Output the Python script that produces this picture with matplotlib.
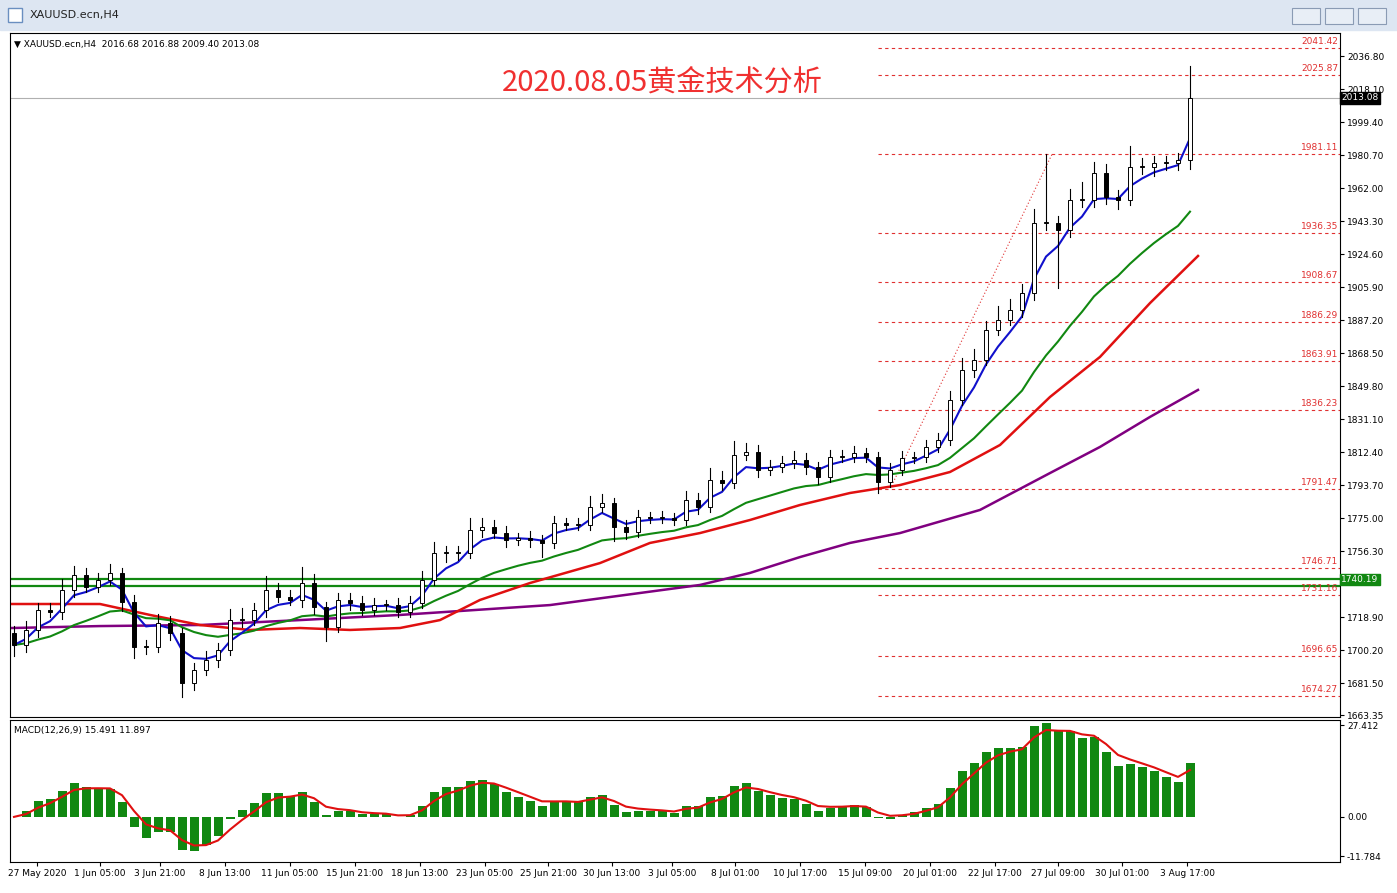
import numpy as np
import pandas as pd
import matplotlib
matplotlib.use("Agg")
import matplotlib.pyplot as plt
from matplotlib.patches import Rectangle

plt.rcParams['font.family'] = ['DejaVu Sans']

closes = [1703.1,1711.6,1722.9,1721.8,1734.2,1742.7,1735.9,1739.9,1743.9,1727.4,
1701.9,1701.9,1715.5,1709.9,1681.5,1688.9,1694.6,1700.2,1717.2,1717.2,
1722.9,1734.2,1730.3,1728.6,1738.2,1724.6,1713.3,1728.6,1726.9,1722.9,
1725.7,1725.7,1721.8,1726.9,1739.9,1755.2,1755.2,1755.2,1768.2,1769.9,
1766.5,1762.6,1763.7,1762.6,1760.9,1772.2,1771.1,1771.1,1781.3,1783.5,
1769.9,1767.1,1775.6,1775.0,1775.0,1773.9,1785.2,1781.3,1796.6,1794.9,
1810.7,1812.4,1802.2,1803.9,1806.2,1807.9,1803.9,1798.3,1809.6,1809.6,
1811.9,1809.6,1795.4,1802.2,1809.0,1809.6,1815.3,1819.2,1841.9,1858.9,
1864.6,1881.6,1887.2,1892.9,1902.5,1942.2,1942.2,1938.2,1955.2,1955.2,
1970.5,1956.9,1955.2,1973.9,1973.9,1976.1,1976.1,1978.0,2013.08]
first_open = 1710.0
upper_wick = [4,5,4,4,6,5,4,4,5,3, 4,4,5,4,3,4,5,4,6,7, 4,8,4,4,9,5,3,4,4,4,
 4,3,4,4,5,6,4,4,7,5, 4,4,3,4,3,4,3,4,6,5, 3,4,4,3,4,3,5,4,7,5,
 8,5,4,4,4,5,4,3,4,4, 4,3,3,4,4,3,4,4,5,7, 6,5,8,6,5,8,39,4,6,10,
 6,5,4,12,5,4,4,4,18]
lower_wick = [6,4,4,3,4,4,3,3,3,5, 6,4,3,4,8,4,3,4,3,4, 3,4,3,3,4,4,8,3,4,3,
 3,3,3,3,3,3,5,4,3,4, 3,4,3,4,8,3,3,3,3,3, 8,4,3,3,3,3,3,4,3,4,
 3,3,4,3,3,3,4,4,3,3, 3,3,6,3,3,3,3,3,3,3, 4,3,3,3,4,4,4,33,4,4,
 4,4,5,3,4,5,4,4,5]

red_x = [12,100,150,200,250,300,350,400,440,480,530,600,650,700,750,800,850,900,950,1000,1050,1100,1150,1198]
red_ma = [1726.3,1726.3,1720.1,1714.4,1711.6,1712.7,1711.6,1712.7,1717.2,1728.6,1738.2,1749.5,1760.9,1766.5,1773.9,1782.4,1789.2,1793.7,1801.1,1816.4,1843.6,1866.3,1896.8,1923.5]
purple_x = [12,100,200,300,400,550,700,750,800,850,900,980,1050,1100,1150,1198]
purple_ma = [1712.7,1713.8,1714.4,1717.2,1720.1,1725.7,1737.1,1743.9,1752.9,1760.9,1766.5,1779.6,1800.5,1815.3,1832.3,1847.6]

fib_levels = [2041.42,2025.87,1981.11,1936.35,1908.67,1886.29,1863.91,1836.23,1791.47,1746.71,1731.16,1696.65,1674.27]
green_levels = [1740.19,1736.71]
axis_ticks = [2036.80,2018.10,1999.40,1980.70,1962.00,1943.30,1924.60,1905.90,1887.20,1868.50,1849.80,1831.10,1812.40,1793.70,1775.00,1756.30,1718.90,1700.20,1681.50,1663.35]
date_labels = ["27 May 2020","1 Jun 05:00","3 Jun 21:00","8 Jun 13:00","11 Jun 05:00","15 Jun 21:00","18 Jun 13:00","23 Jun 05:00","25 Jun 21:00","30 Jun 13:00","3 Jul 05:00","8 Jul 01:00","10 Jul 17:00","15 Jul 09:00","20 Jul 01:00","22 Jul 17:00","27 Jul 09:00","30 Jul 01:00","3 Aug 17:00"]
date_px = [37,100,160,225,290,355,420,485,548,612,672,735,800,865,930,995,1058,1122,1187]

W, H = 1397, 893
fig = plt.figure(figsize=(W/100, H/100), dpi=100, facecolor='white')
def px2idx(x): return (x-14)/12.0

# window chrome
fig.patches.append(Rectangle((0, 1-30/H), 1, 30/H, transform=fig.transFigure, color='#dde6f2', zorder=0))
fig.text(30/W, 1-15/H, "XAUUSD.ecn,H4", fontsize=8, va='center', color='#222')
fig.patches.append(Rectangle((8/W, 1-22/H), 14/W, 14/H, transform=fig.transFigure, fc='white', ec='#6a8fc0', lw=1))
for bx in [1292, 1325, 1358]:
    fig.patches.append(Rectangle((bx/W, 1-24/H), 28/W, 16/H, transform=fig.transFigure, fc='#e8eef6', ec='#8a9bb4', lw=0.8))

n = len(closes)
opens = [first_open] + closes[:-1]
x = np.arange(n)
c = np.array(closes); o = np.array(opens)
hi = np.maximum(o, c) + np.array(upper_wick)
lo = np.minimum(o, c) - np.array(lower_wick)

xl = (px2idx(10), px2idx(1340))
ax = fig.add_axes([10/W, 1-717/H, 1330/W, 684/H])
ymin = 2036.8-(717-56)*0.5666; ymax = 2036.8+(56-33)*0.5666
ax.set_xlim(*xl); ax.set_ylim(ymin, ymax)

for lv in fib_levels:
    ax.plot([px2idx(878), xl[1]], [lv, lv], color='#e03030', ls=(0,(3,3)), lw=0.8)
    ax.text(px2idx(1338), lv+1.2, f"{lv:.2f}", color='#e03030', fontsize=6.5, ha='right', va='bottom')
for lv in green_levels:
    ax.axhline(lv, color='#118811', lw=1.6)
ax.axhline(2013.08, color='#b0b0b0', lw=0.8)
ax.plot([px2idx(893), px2idx(1052)], [1795.0, 1981.11], color='#e03030', ls=(0,(1,2)), lw=0.8)

s = pd.Series(closes)
blue = s.ewm(span=4, adjust=False).mean()
green = s.ewm(span=17, adjust=False).mean()
ax.plot([px2idx(v) for v in purple_x], purple_ma, color='#800080', lw=1.8)
ax.plot([px2idx(v) for v in red_x], red_ma, color='#e01010', lw=1.8)
ax.plot(x, green, color='#118811', lw=1.5)
ax.plot(x, blue, color='#1010cc', lw=1.5)

bw = 0.4
for i in range(n):
    ax.plot([i, i], [lo[i], hi[i]], color='black', lw=0.8, zorder=3)
    b0, b1 = min(o[i], c[i]), max(o[i], c[i])
    fc = 'white' if c[i] >= o[i] else 'black'
    ax.add_patch(Rectangle((i-bw/2, b0), bw, max(b1-b0, 0.4), fc=fc, ec='black', lw=0.7, zorder=4))

ax.yaxis.tick_right()
ax.set_yticks(axis_ticks)
ax.set_yticklabels([f"{t:.2f}" for t in axis_ticks], fontsize=6.5)
ax.tick_params(axis='y', length=3, pad=2)
ax.set_xticks([])
ax.text(px2idx(1341), 2013.08, "2013.08", color='white', fontsize=6.5, va='center', ha='left', clip_on=False,
        bbox=dict(boxstyle='square,pad=0.15', fc='black', ec='black'))
ax.text(px2idx(1341), 1740.19, "1740.19", color='white', fontsize=6.5, va='center', ha='left', clip_on=False,
        bbox=dict(boxstyle='square,pad=0.15', fc='#118811', ec='#118811'))
ax.text(0.003, 0.99, "▼ XAUUSD.ecn,H4  2016.68 2016.88 2009.40 2013.08", transform=ax.transAxes, fontsize=6.5, va='top')
ax.text(px2idx(662), 2022, "2020.08.05黄金技术分析", color='#f03030', fontsize=21, ha='center', va='center',
        family=['Noto Sans CJK SC', 'DejaVu Sans'])

# MACD
fast = s.ewm(span=4, adjust=False).mean(); slow = s.ewm(span=9, adjust=False).mean()
macd = fast - slow
sig = macd.ewm(span=3, adjust=False).mean()
ax2 = fig.add_axes([10/W, 1-862/H, 1330/W, 142/H])
ax2.set_xlim(*xl); ax2.set_ylim(-13.5, 29.0)
ax2.bar(x, macd, width=0.75, color='#118811')
ax2.plot(x, sig, color='#e01010', lw=1.5)
ax2.yaxis.tick_right()
ax2.set_yticks([27.412, 0.0, -11.784]); ax2.set_yticklabels(["27.412", "0.00", "-11.784"], fontsize=6.5)
ax2.tick_params(axis='y', length=3, pad=2)
ax2.set_xticks([px2idx(v) for v in date_px]); ax2.set_xticklabels(date_labels, fontsize=6.5)
ax2.tick_params(axis='x', length=3, pad=2)
ax2.text(0.003, 0.96, "MACD(12,26,9) 15.491 11.897", transform=ax2.transAxes, fontsize=6.5, va='top')

fig.savefig("out.png", dpi=100, facecolor='white')
